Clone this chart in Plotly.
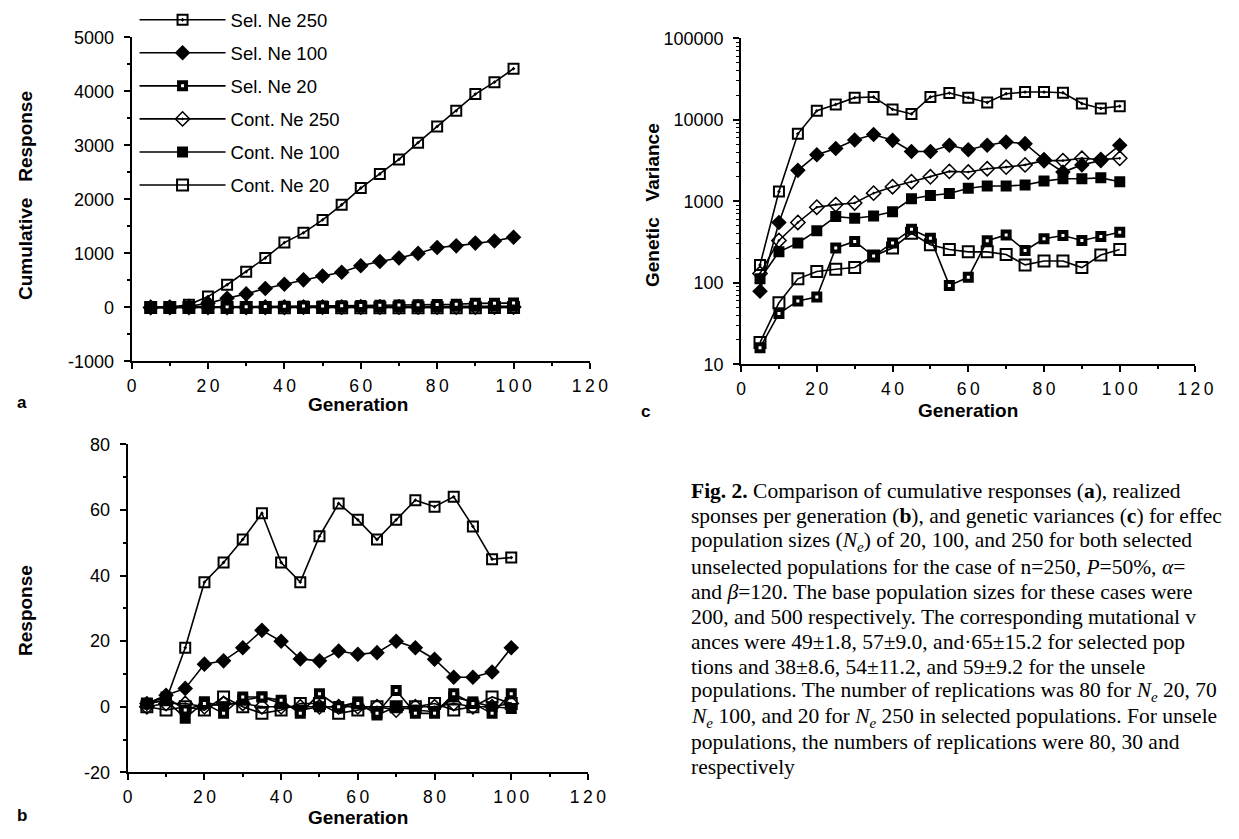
import plotly.graph_objects as go

W, H = 1239, 839

generations = [5, 10, 15, 20, 25, 30, 35, 40, 45, 50, 55, 60, 65, 70, 75, 80, 85, 90, 95, 100]
series_names = ["Sel. Ne 250", "Sel. Ne 100", "Sel. Ne 20", "Cont. Ne 250", "Cont. Ne 100", "Cont. Ne 20"]

# Panel a: cumulative response
cum_sel250 = [0, 5, 50, 200, 420, 660, 915, 1200, 1380, 1620, 1900, 2210, 2470, 2740, 3050, 3350, 3640, 3950, 4170, 4420]
cum_sel100 = [0, 2, 20, 75, 170, 250, 350, 430, 510, 580, 650, 770, 850, 915, 1000, 1110, 1140, 1190, 1230, 1300]
cum_sel20 = [0, 2, 5, 8, 10, 14, 18, 22, 25, 28, 32, 36, 40, 44, 48, 52, 58, 75, 78, 80]
cum_cont250 = [0, 1, 2, 2, 3, 4, 4, 4, 5, 5, 5, 6, 6, 6, 6, 7, 7, 7, 7, 7]
cum_cont100 = [0, 2, 0, 2, 3, 6, 8, 10, 10, 12, 13, 15, 14, 16, 18, 17, 20, 22, 22, 20]
cum_cont20 = [0, -1, -2, -3, -1, -2, -4, -5, -4, -3, -5, -6, -6, -6, -7, -6, -7, -7, -4, -3]

# Panel b: response per generation
resp_sel250 = [1, 2, 18, 38, 44, 51, 59, 44, 38, 52, 62, 57, 51, 57, 63, 61, 64, 55, 45, 45.5]
resp_sel100 = [1, 3.5, 5.6, 13, 14, 18, 23.3, 20, 14.6, 14, 17, 16, 16.5, 20, 18, 14.5, 9, 9, 10.6, 18]
resp_sel20 = [1, 3, -1, 1, -2, 3, 3, 2, -2, 4, 0, 1, -2, 5, -2, -2, 4, 1, -2, 4]
resp_cont250 = [0, 1, 1, 0, 1, 1, 0, 0, 0, 0, 0, 0, 0, -1, 0, 0, 1, 0, 0, 1]
resp_cont100 = [1, 2, -3.5, 1.5, 0, 2, 3, 1, -1, 0, 0, 1.5, -2.5, 0, -1, -1.5, 3, 1.5, 0, -0.5]
resp_cont20 = [0, -1, 0, -1, 3, 0, -2, -1, 1, 1, -2, -1, 0, 0, 0, 1, -1, 0, 3, 1]

# Panel c: genetic variance
var_sel250 = [166, 1318, 6730, 12900, 15400, 18700, 19050, 13430, 11800, 19050, 21300, 18700, 16300, 20900, 21900, 21900, 21500, 15850, 13800, 14700]
var_sel100 = [79, 550, 2400, 3730, 4450, 5650, 6600, 5600, 4090, 4090, 4880, 4290, 4880, 5350, 5100, 3250, 2290, 2800, 3160, 4880]
var_sel20 = [16, 42, 60, 67, 268, 322, 213, 308, 453, 353, 93, 117, 328, 387, 249, 347, 380, 331, 370, 417]
var_cont250 = [130, 331, 550, 847, 912, 955, 1260, 1510, 1740, 2000, 2330, 2290, 2510, 2630, 2800, 3160, 3160, 3370, 3250, 3370]
var_cont100 = [112, 240, 308, 437, 650, 620, 660, 745, 1075, 1180, 1250, 1450, 1540, 1540, 1585, 1770, 1890, 1890, 1940, 1740]
var_cont20 = [18.5, 57, 112, 138, 147, 154, 213, 268, 405, 294, 256, 240, 240, 223, 166, 185, 185, 154, 219, 256]

x_ticks = [0, 20, 40, 60, 80, 100, 120]
x_tick_text = ["0", "2\u20090", "4\u20090", "6\u20090", "8\u20090", "1\u20090\u20090", "1\u20092\u20090"]
ya_ticks = [-1000, 0, 1000, 2000, 3000, 4000, 5000]
ya_text = ["-1000", "0", "1000", "2000", "3000", "4000", "5000"]
yb_ticks = [-20, 0, 20, 40, 60, 80]
yb_text = ["-20", "0", "20", "40", "60", "80"]
yc_ticks = [10, 100, 1000, 10000, 100000]
yc_text = ["10", "100", "1000", "10000", "100000"]

caption_lines = [
    "<b>Fig. 2.</b> Comparison of cumulative responses (<b>a</b>), realized",
    "sponses per generation (<b>b</b>), and genetic variances (<b>c</b>) for effec",
    "population sizes (<i>N<sub>e</sub></i>) of 20, 100, and 250 for both selected",
    "unselected populations for the case of n=250, <i>P</i>=50%, <i>α</i>=",
    "and <i>β</i>=120. The base population sizes for these cases were",
    "200, and 500 respectively. The corresponding mutational v",
    "ances were 49±1.8, 57±9.0, and·65±15.2 for selected pop",
    "tions and 38±8.6, 54±11.2, and 59±9.2 for the unsele",
    "populations. The number of replications was 80 for <i>N<sub>e</sub></i> 20, 70",
    "<i>N<sub>e</sub></i> 100, and 20 for <i>N<sub>e</sub></i> 250 in selected populations. For unsele",
    "populations, the numbers of replications were 80, 30 and",
    "respectively",
]

styles = [
    dict(symbol="square-open-dot", size=10, color="black", line=dict(color="black", width=2)),
    dict(symbol="diamond", size=12, color="black", line=dict(color="black", width=0)),
    dict(symbol="square", size=7, color="white", line=dict(color="black", width=4)),
    dict(symbol="diamond-open-dot", size=11, color="black", line=dict(color="black", width=1.5)),
    dict(symbol="square", size=11, color="black", line=dict(color="black", width=0)),
    dict(symbol="square-open", size=11, color="black", line=dict(color="black", width=2)),
]

def px_x(p):
    return p / W

def px_y(p):
    return 1 - p / H

fig = go.Figure()

panels = [
    ("x", "y", [cum_sel250, cum_sel100, cum_sel20, cum_cont250, cum_cont100, cum_cont20], True),
    ("x2", "y2", [resp_sel250, resp_sel100, resp_sel20, resp_cont250, resp_cont100, resp_cont20], False),
    ("x3", "y3", [var_sel250, var_sel100, var_sel20, var_cont250, var_cont100, var_cont20], False),
]

for xa, ya, data, show in panels:
    for i in reversed(range(6)):
        fig.add_trace(go.Scatter(
            x=generations, y=data[i], mode="lines+markers", name=series_names[i],
            xaxis=xa, yaxis=ya, showlegend=show, legendgroup=series_names[i],
            legendrank=i + 1,
            line=dict(color="black", width=1.6),
            marker=styles[i],
        ))

SANS = "Liberation Sans, Arial, sans-serif"
tick_font = dict(family=SANS, size=18, color="black")
minor_common = dict(ticks="outside", ticklen=3, tickwidth=1.5, tickcolor="black", showgrid=False)

def xax(domain, anchor):
    return dict(domain=domain, anchor=anchor, range=[0, 120], tickvals=x_ticks, ticktext=x_tick_text,
                ticks="outside", ticklen=6, tickwidth=1.5, tickcolor="black",
                showline=True, linewidth=2, linecolor="black", showgrid=False, zeroline=False,
                tickfont=dict(family=SANS, size=17.5, color="black"), ticklabelstandoff=2,
                minor=dict(dtick=10, **minor_common), fixedrange=True)

def yax(domain, anchor, rng, tv, tt, minor, **kw):
    d = dict(domain=domain, anchor=anchor, range=rng, tickvals=tv, ticktext=tt,
             ticks="outside", ticklen=6, tickwidth=1.5, tickcolor="black",
             showline=True, linewidth=2, linecolor="black", showgrid=False, zeroline=False,
             tickfont=tick_font, ticklabelstandoff=6, minor=minor, fixedrange=True)
    d.update(kw)
    return d

fig.update_layout(
    width=W, height=H, autosize=False,
    margin=dict(l=0, r=0, t=0, b=0),
    paper_bgcolor="white", plot_bgcolor="white",
    showlegend=True,
    legend=dict(x=px_x(132), y=px_y(-9), xanchor="left", yanchor="top",
                bgcolor="rgba(0,0,0,0)", font=dict(family=SANS, size=18.5, color="black"),
                tracegroupgap=6, itemwidth=86, traceorder="grouped"),
    xaxis=xax([px_x(129), px_x(596)], "y"),
    yaxis=yax([px_y(360), px_y(28)], "x", [-1000, 5000], ya_ticks, ya_text,
              dict(dtick=500, **minor_common)),
    xaxis2=xax([px_x(125), px_x(594)], "y2"),
    yaxis2=yax([px_y(781), px_y(445)], "x2", [-20, 80], yb_ticks, yb_text,
               dict(dtick=10, **minor_common)),
    xaxis3=xax([px_x(750), px_x(1213)], "y3"),
    yaxis3=yax([px_y(363), px_y(29)], "x3", [1, 5], yc_ticks, yc_text,
               dict(dtick="D1", ticks="outside", ticklen=3, tickwidth=1, tickcolor="black", showgrid=False),
               type="log"),
)

title_font = dict(family=SANS, size=19, color="black")
letter_font = dict(family=SANS, size=17, color="black")
ann = []
def label(text, x, y, angle=0, font=title_font, xanchor="center"):
    ann.append(dict(text=text, x=px_x(x), y=px_y(y), xref="paper", yref="paper",
                    showarrow=False, textangle=angle, font=font, xanchor=xanchor, yanchor="middle"))

label("<b>Generation</b>", 360, 404)
label("<b>Cumulative   Response</b>", 21, 190, angle=-90)
label("<b>Generation</b>", 360, 827)
label("<b>Response</b>", 21, 615, angle=-90)
label("<b>Generation</b>", 981, 410)
label("<b>Genetic   Variance</b>", 659, 200, angle=-90)
label("<b>a</b>", 17, 402, font=letter_font)
label("<b>b</b>", 17, 825, font=letter_font)
label("<b>c</b>", 653, 411, font=letter_font)

cap_font = dict(family="Liberation Serif, Times New Roman, serif", size=21.5, color="black")
for k, line in enumerate(caption_lines):
    label(line, 697, 493 + 25.7 * k, font=cap_font, xanchor="left")

fig.update_layout(annotations=ann)

fig.write_html("out.html", config={"displayModeBar": False},
               post_script="document.body.style.margin='0';document.body.style.overflow='hidden';")
